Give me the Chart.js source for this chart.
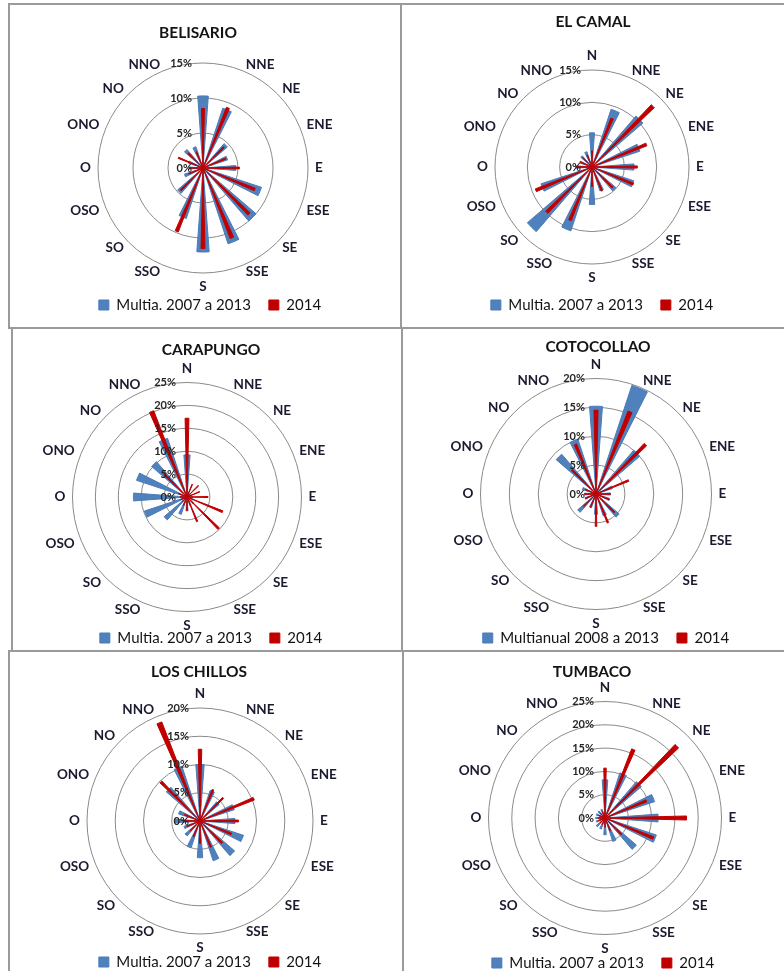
<!DOCTYPE html>
<html>
<head>
<meta charset="utf-8">
<title>Rosas de viento</title>
<script src="https://cdn.jsdelivr.net/npm/chart.js@4.4.1/dist/chart.umd.min.js"></script>
<style>
html, body { margin: 0; padding: 0; background: #ffffff; }
body { width: 784px; height: 971px; position: relative; overflow: hidden; }
.ln { position: absolute; background: #9a9a9a; }
canvas { position: absolute; }
</style>
</head>
<body>
<div class="ln" style="left:8px;top:3px;width:776px;height:2px"></div>
<div class="ln" style="left:8px;top:327px;width:776px;height:2px"></div>
<div class="ln" style="left:8px;top:650px;width:776px;height:2px"></div>
<div class="ln" style="left:8px;top:3px;width:2px;height:326px"></div>
<div class="ln" style="left:400px;top:3px;width:2px;height:326px"></div>
<div class="ln" style="left:11px;top:328px;width:2px;height:323px"></div>
<div class="ln" style="left:401px;top:328px;width:2px;height:323px"></div>
<div class="ln" style="left:8px;top:651px;width:2px;height:320px"></div>
<div class="ln" style="left:402px;top:651px;width:2px;height:320px"></div>
<script>
// ---------------- data ----------------
const directions = ['N','NNE','NE','ENE','E','ESE','SE','SSE','S','SSO','SO','OSO','O','ONO','NO','NNO'];
const stationNames = ['BELISARIO','EL CAMAL','CARAPUNGO','COTOCOLLAO','LOS CHILLOS','TUMBACO'];
const multiLabels = ['Multia. 2007 a 2013','Multia. 2007 a 2013','Multia. 2007 a 2013','Multianual 2008 a 2013','Multia. 2007 a 2013','Multia. 2007 a 2013'];
const yearLabel = '2014';
const axisMax = [15, 15, 25, 20, 20, 25];
const tickStep = 5;

//                    N    NNE  NE   ENE  E    ESE  SE   SSE  S    SSO  SO   OSO  O    ONO  NO   NNO
const belisarioMulti = [10.3, 9.0, 4.6, 3.7, 4.7, 8.8,10.0,11.4,12.0, 7.6, 4.8, 2.8, 2.0, 2.2, 3.5, 3.2];
const belisario2014  = [ 8.5, 9.3, 4.2, 3.5, 5.2, 8.0, 9.3,10.8,11.5, 9.8, 4.5, 2.2, 2.0, 3.8, 3.0, 2.5];
const elCamalMulti   = [ 5.3, 9.4,10.4, 7.8, 6.5, 6.8, 4.9, 3.9, 5.8,10.4,13.2, 8.3, 2.5, 2.0, 2.3, 2.5];
const elCamal2014    = [ 2.5, 8.1,13.3, 9.1, 7.0, 6.9, 4.5, 4.0, 3.0, 8.9, 9.9, 9.4, 2.5, 2.0, 2.0, 2.0];
const carapungoMulti = [ 9.2, 1.0, 1.0, 1.0, 1.2, 1.5, 2.0, 2.0, 3.0, 4.0, 6.6, 9.8,11.7,11.6,10.2,13.5];
const carapungo2014  = [17.2, 3.0, 3.5, 3.0, 4.6, 8.4, 9.8, 5.8, 3.0, 2.0, 1.5, 1.5, 1.5, 2.0, 7.0,20.2];
const cotocollaoMulti= [15.2,19.8,10.0, 3.0, 2.5, 2.5, 5.3, 4.0, 3.5, 2.5, 4.2, 2.0, 2.0, 2.5, 9.1,10.0];
const cotocollao2014 = [14.5,15.4,12.1, 6.1, 2.5, 2.5, 4.5, 5.4, 5.6, 2.5, 3.0, 2.0, 2.0, 2.0, 5.9, 9.3];
const losChillosMulti= [10.0, 5.7, 4.5, 6.4, 6.2, 8.1, 8.1, 7.4, 6.5, 5.0, 3.5, 3.0, 4.5, 4.0, 7.9,10.2];
const losChillos2014 = [12.7, 6.0, 5.8,10.3, 6.8, 6.0, 5.5, 5.0, 4.0, 3.0, 2.5, 2.5, 3.0, 3.0, 9.8,18.8];
const tumbacoMulti   = [ 8.2,10.2,10.3,11.2,11.4,11.6, 8.9, 5.3, 3.6, 2.5, 2.5, 2.0, 2.0, 2.0, 2.0, 2.0];
const tumbaco2014    = [10.7,15.9,21.8, 9.6,17.5,11.2, 5.0, 3.0, 2.0, 1.5, 1.5, 1.5, 1.5, 1.5, 1.5, 1.5];

const multiSeries = [belisarioMulti, elCamalMulti, carapungoMulti, cotocollaoMulti, losChillosMulti, tumbacoMulti];
const series2014  = [belisario2014, elCamal2014, carapungo2014, cotocollao2014, losChillos2014, tumbaco2014];

// ---------------- layout (page pixels) ----------------
const layoutCfg = [
  { box: [9, 4, 392, 324],    cx: 203, cy: 168, R: 105,   title: [198, 33],  legend: [210, 305], hide: ['N'] },
  { box: [401, 4, 383, 324],  cx: 592, cy: 167, R: 97,    title: [593, 22],  legend: [602, 305], hide: [] },
  { box: [12, 328, 390, 323], cx: 187, cy: 497, R: 114.5, title: [211, 350], legend: [211, 638], hide: [] },
  { box: [402, 328, 382, 323],cx: 596, cy: 494, R: 115.5, title: [598, 347], legend: [606, 638], hide: [] },
  { box: [9, 651, 393, 320],  cx: 200, cy: 821, R: 113,   title: [199, 672], legend: [210, 962], hide: [] },
  { box: [403, 651, 381, 320],cx: 605, cy: 818, R: 116.5, title: [592, 672], legend: [603, 963], hide: [] }
];

const SUB = 16; // sub-steps per direction used to draw each wedge in the radar

function wedgeTable(values, half) {
  const n = values.length * SUB;
  const out = new Array(n).fill(0);
  values.forEach((v, d) => {
    for (let j = -half; j <= half; j++) out[(d * SUB + j + n) % n] = v;
  });
  return out;
}

const placePlugin = {
  id: 'place',
  afterLayout(chart, args, o) {
    const t = chart.titleBlock;
    if (t && o.title) {
      const w = t.right - t.left, h = t.bottom - t.top;
      t.left = o.title[0] - w / 2; t.right = t.left + w;
      t.top = o.title[1] - h / 2; t.bottom = t.top + h;
    }
    const L = chart.legend;
    if (L && o.legend) {
      const w = L.right - L.left, h = L.bottom - L.top;
      const pad = L.options.labels.padding;
      const fs = 15;
      L.left = o.legend[0] - w / 2; L.right = L.left + w;
      L.top = o.legend[1] - pad - fs / 2; L.bottom = L.top + h;
    }
  }
};

const tickLabelPlugin = {
  id: 'tickLabels',
  afterDatasetsDraw(chart) {
    const s = chart.scales.r, ctx = chart.ctx;
    ctx.save();
    ctx.font = 'bold 11px Lato';
    ctx.fillStyle = '#262626';
    ctx.textAlign = 'right';
    ctx.textBaseline = 'middle';
    s.ticks.forEach(t => {
      const d = s.getDistanceFromCenterForValue(t.value);
      ctx.fillText(t.label, s.xCenter - 11, s.yCenter - d);
    });
    ctx.restore();
  }
};

Chart.defaults.font.family = 'Lato';

function build(i) {
  const p = layoutCfg[i];
  const M = 60;
  const cl = p.box[0] - M, ct = p.box[1] - M, W = p.box[2] + 2 * M, H = p.box[3] + 2 * M;
  const canvas = document.createElement('canvas');
  canvas.width = W; canvas.height = H;
  canvas.style.left = cl + 'px'; canvas.style.top = ct + 'px';
  canvas.style.width = W + 'px'; canvas.style.height = H + 'px';
  document.body.appendChild(canvas);
  const cx = p.cx - cl, cy = p.cy - ct;

  const labels = [];
  for (let k = 0; k < directions.length * SUB; k++) {
    const dir = directions[k / SUB];
    labels.push(k % SUB === 0 && !p.hide.includes(dir) ? dir : '');
  }

  const chart = new Chart(canvas, {
    type: 'radar',
    data: {
      labels: labels,
      datasets: [
        { label: multiLabels[i], data: wedgeTable(multiSeries[i], 3), backgroundColor: '#4F81BD', borderColor: '#4A7BB7', borderWidth: 1, fill: true, order: 2 },
        { label: yearLabel, data: wedgeTable(series2014[i], 1), backgroundColor: '#C00000', borderColor: '#C00000', borderWidth: 1, fill: true, order: 1 }
      ]
    },
    options: {
      responsive: false,
      animation: false,
      devicePixelRatio: 1,
      events: [],
      layout: { padding: { left: cx - p.R - 110, right: W - cx - p.R - 110, top: cy - p.R - 32 - 19, bottom: H - cy - p.R - 32 - 53 } },
      elements: { point: { radius: 0 }, line: { tension: 0 } },
      scales: {
        r: {
          min: 0, max: axisMax[i], startAngle: 0,
          angleLines: { display: false },
          grid: { circular: true, color: '#8a8a8a', lineWidth: 1 },
          ticks: { display: false, stepSize: tickStep, callback: v => v + '%' },
          pointLabels: {
            display: true,
            font: { family: 'Lato', size: 13.5, weight: 'bold', lineHeight: 0.01 },
            color: '#1b1b30',
            padding: c => (c.index === 0 || c.index === 8 * SUB) ? 14 : 7
          }
        }
      },
      plugins: {
        title: { display: true, text: stationNames[i], font: { family: 'Lato', size: 15.5, weight: 'bold' }, color: '#141414', padding: 0 },
        legend: {
          display: true, position: 'bottom',
          labels: { font: { family: 'Lato', size: 15 }, color: '#141414', boxWidth: 10, boxHeight: 10, padding: 18,
                    sort: (a, b) => a.datasetIndex - b.datasetIndex }
        },
        tooltip: { enabled: false },
        place: { title: [p.title[0] - cl, p.title[1] - ct], legend: [p.legend[0] - cl, p.legend[1] - ct] }
      }
    },
    plugins: [placePlugin, tickLabelPlugin]
  });

  for (let it = 0; it < 8; it++) {
    const s = chart.scales.r;
    const dR = p.R - s.drawingArea, dx = cx - s.xCenter, dy = cy - s.yCenter;
    if (Math.abs(dR) < 0.5 && Math.abs(dx) < 1 && Math.abs(dy) < 1) break;
    const q = Object.assign({}, chart.options.layout.padding);
    q.left += dx - dR; q.right += -dx - dR; q.top += dy - dR; q.bottom += -dy - dR;
    chart.options.layout.padding = q;
    chart.update('none');
  }
  return chart;
}

for (let i = 0; i < layoutCfg.length; i++) build(i);
</script>
</body>
</html>
